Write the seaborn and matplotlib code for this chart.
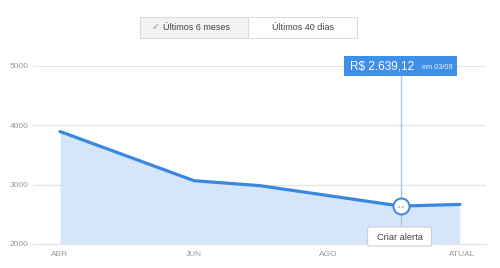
import matplotlib
matplotlib.use("Agg")
import matplotlib.pyplot as plt
import matplotlib.dates as mdates
from matplotlib.patches import Rectangle, FancyBboxPatch
import seaborn as sns
import pandas as pd

# ---- data ----
dates = ["2015-04-01", "2015-06-01", "2015-07-01", "2015-09-03", "2015-09-30"]
values = [3896, 3067, 2983, 2639.12, 2667]
tick_dates = ["2015-04-01", "2015-06-01", "2015-08-01", "2015-10-01"]
tick_labels = ["ABR", "JUN", "AGO", "ATUAL"]
y_ticks = [2000, 3000, 4000, 5000]
toggle_labels = ["Últimos 6 meses", "Últimos 40 dias"]
tooltip_value = "R$ 2.639,12"
tooltip_date = "em 03/09"
button_label = "Criar alerta"
highlight_index = 3

sns.set_style("white")
plt.rcParams["font.family"] = ["Liberation Sans", "DejaVu Sans"]

LINE = "#3a87dd"
FILL = "#d6e6fa"
GRID = "#e4e4e4"
TXT = "#9a9a9a"

df = pd.DataFrame({"date": pd.to_datetime(dates), "value": values})

W, H = 500, 268
fig = plt.figure(figsize=(W / 100, H / 100), dpi=100)
ax = fig.add_axes([33 / W, (H - 244) / H, (486 - 33) / W, (244 - 66) / H])

ax.fill_between(df["date"], 2000, df["value"], color=FILL, lw=0, zorder=1)
sns.lineplot(data=df, x="date", y="value", ax=ax, color=LINE, lw=2.3, zorder=3,
             solid_joinstyle="round", solid_capstyle="round")

x0 = pd.Timestamp(tick_dates[0])
ax.set_xlim(mdates.date2num(x0 - pd.Timedelta(days=12.3)),
            mdates.date2num(x0 + pd.Timedelta(days=193.9)))
ax.set_ylim(y_ticks[0], y_ticks[-1])
ax.set_yticks(y_ticks)
ax.set_yticklabels([str(v) for v in y_ticks])
ax.set_xticks(pd.to_datetime(tick_dates))
ax.set_xticklabels(tick_labels)
ax.grid(axis="y", color=GRID, lw=0.9)
ax.set_axisbelow(True)
for s in ["top", "right", "left"]:
    ax.spines[s].set_visible(False)
ax.spines["bottom"].set_color(GRID)
ax.spines["bottom"].set_linewidth(0.9)
ax.tick_params(axis="both", length=0, labelsize=6, colors=TXT)
ax.tick_params(axis="y", pad=3)
ax.tick_params(axis="x", pad=5)
ax.set_xlabel("")
ax.set_ylabel("")

# highlighted point
hx = df["date"].iloc[highlight_index]
hy = df["value"].iloc[highlight_index]
fig.canvas.draw()
px, py = ax.transData.transform((mdates.date2num(hx), hy))
py = H - py

# overlay for UI elements (pixel coordinates, top-left origin)
ov = fig.add_axes([0, 0, 1, 1], zorder=5)
ov.set_xlim(0, W)
ov.set_ylim(H, 0)
ov.axis("off")
ov.patch.set_alpha(0)

# vertical guide line
ov.plot([px, px], [76, 227], color="#a9c8dc", lw=1.0, zorder=2)
# marker
ov.plot([px], [py], marker="o", ms=11.5, mfc="white", mec=LINE, mew=1.4, zorder=4)
ov.text(px, py + 0.3, "‹ ›", ha="center", va="center", fontsize=4.5, color=LINE,
        fontweight="bold", zorder=5)

# tooltip box
ov.add_patch(Rectangle((px - 56.5, 56), 113, 20, facecolor="#3d8fe8", edgecolor="none", zorder=3))
ov.text(px - 51, 66.5, tooltip_value, ha="left", va="center", fontsize=8.5, color="white", zorder=4)
ov.text(px + 52, 67.5, tooltip_date, ha="right", va="center", fontsize=5.3, color="#e8f1fc", zorder=4)

# Criar alerta button
ov.add_patch(FancyBboxPatch((px - 33, 227), 64, 19, boxstyle="round,pad=0,rounding_size=2",
                            facecolor="white", edgecolor="#cfcfcf", lw=0.8, zorder=3))
ov.text(px - 1, 237, button_label, ha="center", va="center", fontsize=6.6, color="#444444", zorder=4)

# toggle buttons
ov.add_patch(Rectangle((140, 17), 108, 20.5, facecolor="#f3f3f3", edgecolor="#dcdcdc", lw=0.8, zorder=3))
ov.add_patch(Rectangle((248, 17), 109, 20.5, facecolor="white", edgecolor="#dcdcdc", lw=0.8, zorder=3))
ov.text(156, 27.5, "✔", ha="center", va="center", fontsize=6.5, color="#b5b5b5",
        family=["DejaVu Sans"], zorder=4)
ov.text(196, 27.5, toggle_labels[0], ha="center", va="center", fontsize=6.5, color="#444444", zorder=4)
ov.text(303, 27.5, toggle_labels[1], ha="center", va="center", fontsize=6.5, color="#444444", zorder=4)

fig.savefig("out.png", dpi=100)
